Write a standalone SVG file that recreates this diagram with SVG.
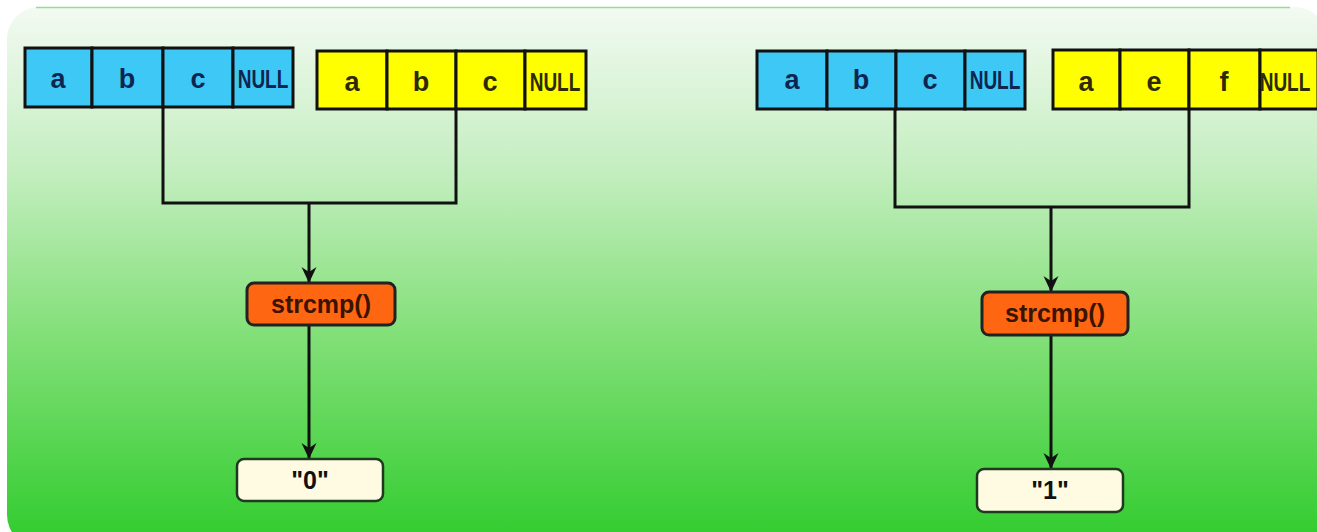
<svg xmlns="http://www.w3.org/2000/svg" width="1317" height="532" viewBox="0 0 1317 532">
<defs>
<linearGradient id="bg" x1="0" y1="0" x2="0" y2="1">
<stop offset="0" stop-color="#f3faf2"/>
<stop offset="0.3" stop-color="#c4eec0"/>
<stop offset="0.6" stop-color="#84e07a"/>
<stop offset="1" stop-color="#2fcb2c"/>
</linearGradient>
<marker id="arr" markerWidth="16" markerHeight="16" refX="15" refY="8" orient="auto" markerUnits="userSpaceOnUse" viewBox="0 0 16 16">
<path d="M16,8 L0,0.5 L5,8 L0,15.5 Z" fill="#111"/>
</marker>
<style>
.cb{fill:#3ec8f5;stroke:#111;stroke-width:3}
.cy{fill:#ffff00;stroke:#111;stroke-width:3}
.t{font-family:"Liberation Sans",Arial,sans-serif;font-weight:bold;text-anchor:middle}
.tb{fill:#0e2550;font-size:27px}
.ty{fill:#2e2a00;font-size:27px}
.nl{font-size:19px}
.fn{fill:#ff6611;stroke:#222;stroke-width:3}
.res{fill:#fffbe2;stroke:#1e3a1e;stroke-width:2.5}
.tf{fill:#3a1400;font-size:25px}
.tr{fill:#111;font-size:25px}
.ln{fill:none;stroke:#111;stroke-width:3}
</style>
</defs>
<rect x="7" y="7" width="1320" height="540" rx="32" fill="url(#bg)"/>
<line x1="36" y1="7.5" x2="1290" y2="7.5" stroke="#8fe08a" stroke-width="1.5"/>

<g id="connectors">
<path class="ln" d="M163,107 V203 H456 V109"/>
<path class="ln" d="M309,203 V282" marker-end="url(#arr)"/>
<path class="ln" d="M309,326 V458" marker-end="url(#arr)"/>
<path class="ln" d="M895,109 V207 H1189 V109"/>
<path class="ln" d="M1051,207 V291" marker-end="url(#arr)"/>
<path class="ln" d="M1051,335 V468" marker-end="url(#arr)"/>
</g>

<g id="str1">
<rect class="cb" x="25" y="48" width="67" height="59"/>
<rect class="cb" x="92" y="48" width="71" height="59"/>
<rect class="cb" x="163" y="48" width="70" height="59"/>
<rect class="cb" x="233" y="48" width="60" height="59"/>
<text class="t tb" x="58" y="88">a</text>
<text class="t tb" x="127" y="88">b</text>
<text class="t tb" x="198" y="88">c</text>
<text class="t tb nl" transform="translate(263 88) scale(1 1.4)">NULL</text>
</g>

<g id="str2">
<rect class="cy" x="317" y="51" width="70" height="58"/>
<rect class="cy" x="387" y="51" width="69" height="58"/>
<rect class="cy" x="456" y="51" width="69" height="58"/>
<rect class="cy" x="525" y="51" width="61" height="58"/>
<text class="t ty" x="352" y="91">a</text>
<text class="t ty" x="421" y="91">b</text>
<text class="t ty" x="490" y="91">c</text>
<text class="t ty nl" transform="translate(555 91) scale(1 1.4)">NULL</text>
</g>

<g id="str3">
<rect class="cb" x="757" y="51" width="70" height="58"/>
<rect class="cb" x="827" y="51" width="69" height="58"/>
<rect class="cb" x="896" y="51" width="69" height="58"/>
<rect class="cb" x="965" y="51" width="60" height="58"/>
<text class="t tb" x="792" y="89">a</text>
<text class="t tb" x="861" y="89">b</text>
<text class="t tb" x="930" y="89">c</text>
<text class="t tb nl" transform="translate(995 89) scale(1 1.4)">NULL</text>
</g>

<g id="str4">
<rect class="cy" x="1053" y="50" width="67" height="59"/>
<rect class="cy" x="1120" y="50" width="69" height="59"/>
<rect class="cy" x="1189" y="50" width="71" height="59"/>
<rect class="cy" x="1260" y="50" width="58" height="59"/>
<text class="t ty" x="1086" y="91">a</text>
<text class="t ty" x="1154" y="91">e</text>
<text class="t ty" x="1224" y="91">f</text>
<text class="t ty nl" transform="translate(1285 91) scale(1 1.4)">NULL</text>
</g>

<g id="cmp1">
<rect class="fn" x="247" y="283" width="148" height="42" rx="7"/>
<text class="t tf" x="321" y="313">strcmp()</text>
</g>
<g id="res1">
<rect class="res" x="237" y="459" width="146" height="42" rx="7"/>
<text class="t tr" x="310" y="489">"0"</text>
</g>

<g id="cmp2">
<rect class="fn" x="982" y="292" width="146" height="43" rx="7"/>
<text class="t tf" x="1055" y="322">strcmp()</text>
</g>
<g id="res2">
<rect class="res" x="977" y="469" width="146" height="43" rx="7"/>
<text class="t tr" x="1050" y="499">"1"</text>
</g>
</svg>
